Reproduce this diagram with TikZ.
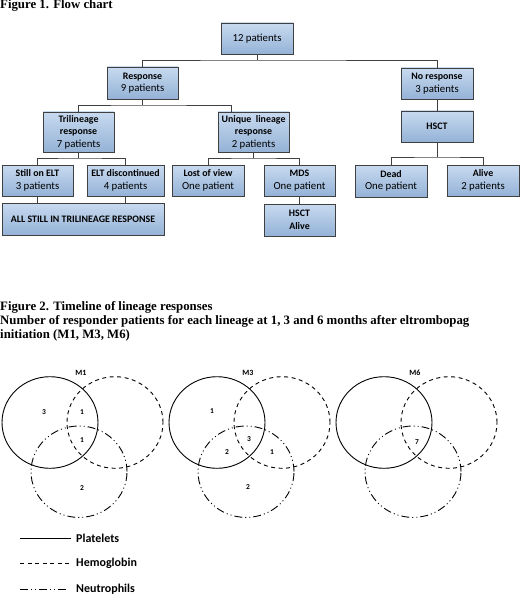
\documentclass[tikz,border=0pt]{standalone}
\usepackage{fontspec}
\setmainfont{Carlito}
\newfontfamily\titlefont{Liberation Serif}
\usetikzlibrary{shadows}
\definecolor{boxtop}{RGB}{200,218,240}
\definecolor{boxbot}{RGB}{148,178,214}
\definecolor{boxline}{RGB}{64,64,64}
\tikzset{
  box/.style={draw=boxline, line width=0.8pt, top color=boxtop, bottom color=boxbot,
    inner sep=0pt, align=center, font=\fontsize{10.8}{12.5}\selectfont,
    drop shadow={shadow xshift=0.7pt, shadow yshift=-0.7pt, opacity=0.35}},
  link/.style={draw=boxline, line width=0.8pt},
  plt/.style={line width=0.9pt},
  hgb/.style={line width=0.9pt, dash pattern=on 4pt off 3.5pt},
  neu/.style={line width=0.9pt, dash pattern=on 8pt off 3pt on 1pt off 3pt on 1pt off 3pt},
  num/.style={font=\bfseries\fontsize{7.5}{8}\selectfont, inner sep=0pt},
  title/.style={inner sep=0pt, font=\titlefont\bfseries\fontsize{12.8}{14}\selectfont},
  legend/.style={anchor=west, inner sep=0pt, font=\bfseries\fontsize{12}{14}\selectfont},
}
\newcommand{\hd}[1]{{\bfseries\fontsize{9.9}{12.5}\selectfont #1}}
\begin{document}
\begin{tikzpicture}[x=1pt,y=-1pt]
\useasboundingbox (0,0) rectangle (520,596);

\node[title, anchor=west] (t1) at (0,5.5) {Figure 1. Flow chart};

\node[box, minimum width=72pt, minimum height=31pt] (n12) at (257,38.5) {12 patients};
\node[box, minimum width=71pt, minimum height=32pt] (resp) at (142.5,83) {\hd{Response}\\9 patients};
\node[box, minimum width=72pt, minimum height=31pt] (nores) at (437,83.5) {\hd{No response}\\3 patients};
\node[box, minimum width=71pt, minimum height=40pt] (tri) at (78.5,132) {\hd{Trilineage}\\\hd{response}\\7 patients};
\node[box, minimum width=71pt, minimum height=40pt] (uni) at (253.5,132) {\hd{Unique\ \ lineage}\\\hd{response}\\2 patients};
\node[box, minimum width=72pt, minimum height=31pt] (hsct) at (437,126.5) {\hd{HSCT}};
\node[box, minimum width=71pt, minimum height=31pt] (still) at (37.5,180.5) {\hd{Still on ELT}\\3 patients};
\node[box, minimum width=77pt, minimum height=31pt] (disc) at (125.5,180.5) {\hd{ELT discontinued}\\4 patients};
\node[box, minimum width=162pt, minimum height=32pt] (all) at (83,219) {\hd{ALL STILL IN TRILINEAGE RESPONSE}};
\node[box, minimum width=72pt, minimum height=31pt] (lost) at (208,180.5) {\hd{Lost of view}\\One patient};
\node[box, minimum width=71pt, minimum height=31pt] (mds) at (299.5,180.5) {\hd{MDS}\\One patient};
\node[box, minimum width=71pt, minimum height=32pt] (hsctb) at (299.5,220) {\hd{HSCT}\\\hd{Alive}};
\node[box, minimum width=72pt, minimum height=32pt] (dead) at (391,181) {\hd{Dead}\\One patient};
\node[box, minimum width=72pt, minimum height=31pt] (alive) at (483,180.5) {\hd{Alive}\\2 patients};

\coordinate (b0) at (257,60);
\coordinate (b1) at (142.5,105);
\coordinate (b2) at (78.5,158);
\coordinate (b3) at (253.5,158);
\coordinate (b4) at (437,157);
\draw[link] (n12) -- (b0);
\draw[link] (resp.north) |- (b0) -| (nores.north);
\draw[link] (resp) -- (b1);
\draw[link] (tri.north) |- (b1) -| ([xshift=-22.5pt]uni.north);
\draw[link] (tri) -- (b2);
\draw[link] (still.north) |- (b2) -| (disc.north);
\draw[link] (still) -- (still |- all.north);
\draw[link] (disc) -- (disc |- all.north);
\draw[link] (uni) -- (b3);
\draw[link] (lost.north) |- (b3) -| (mds.north);
\draw[link] (mds) -- (hsctb);
\draw[link] (nores) -- (hsct);
\draw[link] (hsct) -- (b4);
\draw[link] (dead.north) |- (b4) -| (alive.north);

\node[title, anchor=west] (t2) at (0,307) {Figure 2. Timeline of lineage responses};
\node[title, anchor=north west, align=left] (t3) at (0,315.5) {Number of responder patients for each lineage at 1, 3 and 6 months after eltrombopag\\initiation (M1, M3, M6)};

% venn diagrams
\foreach \dx/\m in {0/M1,167/M3,334/M6}{
  \draw[plt] (50+\dx,422.5) ellipse [x radius=48pt, y radius=45.8pt];
  \draw[hgb] (115+\dx,422.5) ellipse [x radius=48pt, y radius=45.8pt];
  \draw[neu] (79+\dx,471.7) ellipse [x radius=48pt, y radius=45.7pt];
  \node[num, font=\bfseries\fontsize{8}{9}\selectfont] (lab\m) at (81+\dx,373) {\m};
}
\node[num] (a1) at (44,412) {3};
\node[num] (a2) at (82,412) {1};
\node[num] (a3) at (82,440) {1};
\node[num] (a4) at (82,488) {2};
\node[num] (c1) at (212,411) {1};
\node[num] (c2) at (249,439) {3};
\node[num] (c3) at (227,452) {2};
\node[num] (c4) at (272,452) {1};
\node[num] (c5) at (248,487) {2};
\node[num] (e1) at (417,442) {7};

% legend
\node[legend] (lgp) at (76,538) {Platelets};
\node[legend] (lgh) at (76,563) {Hemoglobin};
\node[legend] (lgn) at (76,589) {Neutrophils};
\coordinate (lp) at (20,538);
\coordinate (lh) at (20,563);
\coordinate (ln) at (20,589);
\draw[plt] (lp) -- ([xshift=-5pt]lgp.west);
\draw[hgb] (lh) -- ([xshift=-5pt]lgh.west);
\draw[neu] (ln) -- ([xshift=-9pt]lgn.west);
\end{tikzpicture}
\end{document}
